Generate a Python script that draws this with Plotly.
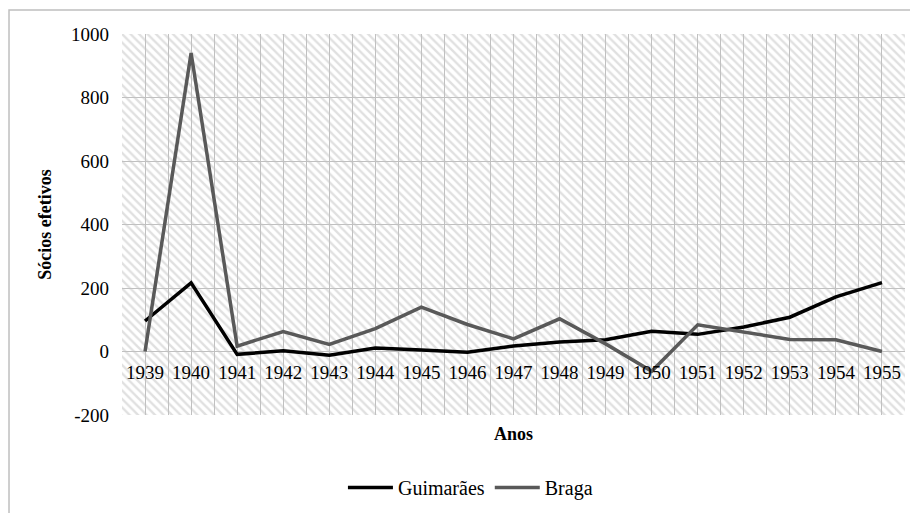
import plotly.graph_objects as go

years = [1939, 1940, 1941, 1942, 1943, 1944, 1945, 1946, 1947, 1948, 1949,
         1950, 1951, 1952, 1953, 1954, 1955]
guimaraes = [96, 216, -9, 2, -12, 11, 5, -2, 17, 30, 37, 64, 54, 77, 108, 172, 217]
braga = [0, 940, 17, 63, 22, 72, 140, 85, 40, 103, 24, -62, 84, 61, 38, 37, 0]
y_ticks = [-200, 0, 200, 400, 600, 800, 1000]
y_labels = ["-200", "0", "200", "400", "600", "800", "1000"]

Y_MIN, Y_MAX = -200, 1000
X_MIN, X_MAX = years[0] - 0.5, years[-1] + 0.5

FONT = "Liberation Serif"
GRID = "#c0c0c0"

fig = go.Figure()

# hatched plot-area background
fig.add_trace(go.Scatter(
    x=[X_MIN, X_MAX, X_MAX, X_MIN, X_MIN],
    y=[Y_MIN, Y_MIN, Y_MAX, Y_MAX, Y_MIN],
    mode="lines", line=dict(width=0, color="rgba(0,0,0,0)"),
    fill="toself", fillcolor="rgba(0,0,0,0)",
    fillpattern=dict(shape="\\", size=6, solidity=0.4,
                     fgcolor="#c2c2c2", bgcolor="rgba(0,0,0,0)"),
    showlegend=False, hoverinfo="skip",
))

fig.add_trace(go.Scatter(x=years, y=guimaraes, mode="lines", name="Guimarães",
                         line=dict(color="#000000", width=3.5)))
fig.add_trace(go.Scatter(x=years, y=braga, mode="lines", name="Braga",
                         line=dict(color="#595959", width=3.5)))

fig.update_layout(
    width=910, height=505,
    margin=dict(l=114, r=13, t=26, b=98, autoexpand=False),
    paper_bgcolor="white", plot_bgcolor="white",
    font=dict(family=FONT, size=19, color="#000000"),
    xaxis=dict(
        range=[X_MIN, X_MAX], tickvals=years, ticktext=[str(y) for y in years],
        showgrid=True, gridcolor=GRID, gridwidth=1,
        minor=dict(dtick=0.5, tick0=X_MIN, showgrid=True, gridcolor=GRID, gridwidth=1),
        anchor="free", position=(0 - Y_MIN) / (Y_MAX - Y_MIN),
        showline=False, zeroline=False, ticks="", automargin=False,
        ticklabelstandoff=7,
        tickfont=dict(size=19, family=FONT),
    ),
    yaxis=dict(
        range=[Y_MIN, Y_MAX], tickvals=y_ticks, ticktext=y_labels,
        showgrid=True, gridcolor=GRID,
        gridwidth=1, zeroline=True, zerolinecolor=GRID, zerolinewidth=1,
        ticks="", ticklabelstandoff=12, automargin=False,
        tickfont=dict(size=19, family=FONT),
        title=dict(text="<b>Sócios efetivos</b>", font=dict(size=18, family=FONT),
                   standoff=14),
    ),
    legend=dict(orientation="h", x=0.445, xanchor="center", y=-0.19, yanchor="middle",
                font=dict(size=20, family=FONT), itemwidth=45, bgcolor="rgba(0,0,0,0)"),
    annotations=[dict(text="<b>Anos</b>", xref="paper", yref="paper", x=0.5, y=-0.018,
                      xanchor="center", yanchor="top", showarrow=False,
                      font=dict(size=18, family=FONT))],
    shapes=[dict(type="rect", xref="paper", yref="paper", x0=-0.1443, x1=1.2,
                 y0=-0.4, y1=1.063, line=dict(color="#bfbfbf", width=1.5),
                 fillcolor="rgba(0,0,0,0)", layer="below")],
)

fig.write_html("out.html")
